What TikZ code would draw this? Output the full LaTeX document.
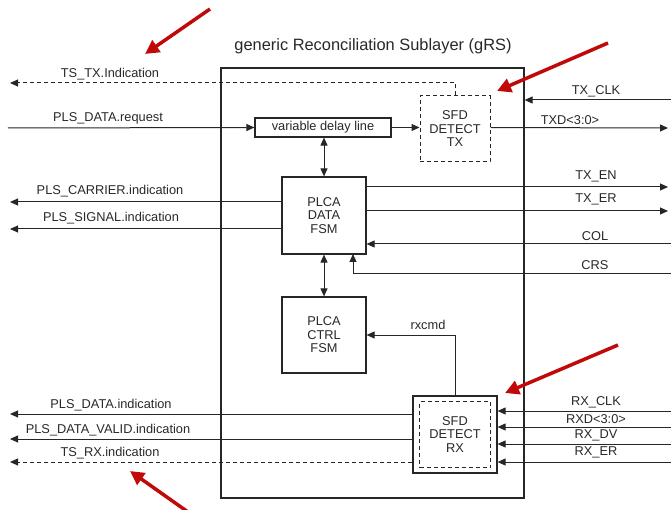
\documentclass[tikz,border=0pt]{standalone}
\usepackage{fontspec}
\setmainfont{Liberation Sans}
\usetikzlibrary{arrows.meta,calc}
\definecolor{redarrow}{RGB}{192,10,10}
\definecolor{txt}{RGB}{40,40,40}
\begin{document}
\begin{tikzpicture}[x=1pt,y=-1pt,
  every node/.style={text=txt},
  sig/.style={line width=1pt,draw=black!85},
  tip/.style={-{Triangle[length=8pt,width=7pt]}},
  dtip/.style={{Triangle[length=8pt,width=7pt]}-{Triangle[length=8pt,width=7pt]}},
  dsig/.style={sig,dash pattern=on 4pt off 3pt},
  lbl/.style={font=\fontsize{12.8}{14}\selectfont,inner sep=0pt},
  blk/.style={draw=black!85,line width=1.2pt,fill=white,align=center,font=\fontsize{12.8}{13.5}\selectfont,inner sep=0pt},
  redarr/.style={draw=redarrow,line width=3.5pt,-{Triangle[length=14pt,width=14pt]}}]
\useasboundingbox (0,0) rectangle (671,510);
\node[draw=black!85,line width=1.2pt,minimum width=303pt,minimum height=430pt,inner sep=0pt] (grs) at (372.5,283) {};
\node[font=\fontsize{16.4}{18}\selectfont,inner sep=0pt] (title) at (373,46) {generic Reconciliation Sublayer (gRS)};
% blocks
\node[blk,line width=1pt,dash pattern=on 4pt off 3pt,minimum width=70pt,minimum height=66pt] (sfdtx) at (455,129) {SFD\\DETECT\\TX};
\node[blk,minimum width=136pt,minimum height=19pt] (delay) at (323,127.5) {variable delay line};
\node[blk,minimum width=84pt,minimum height=77pt] (datafsm) at (324,215.5) {PLCA\\DATA\\FSM};
\node[blk,minimum width=84pt,minimum height=76pt] (ctrlfsm) at (324,335) {PLCA\\CTRL\\FSM};
\node[blk,minimum width=84pt,minimum height=77pt] (sfdrx) at (455,434.5) {};
\node[blk,line width=1pt,dash pattern=on 4pt off 3pt,minimum width=71pt,minimum height=66pt] (sfdrxin) at (455,434.5) {SFD\\DETECT\\RX};
% coordinates of free ends
\coordinate (tstx) at (10,83);
\coordinate (plsreq) at (8,128);
\coordinate (txd) at (668,128);
\coordinate (txclk) at (671,100);
\coordinate (carrier) at (10,202);
\coordinate (signal) at (10,229);
\coordinate (txen) at (668,187);
\coordinate (txer) at (668,211);
\coordinate (col) at (671,244);
\coordinate (crs) at (671,274);
\coordinate (crsin) at (353,254);
\coordinate (rxclk) at (671,411);
\coordinate (rxd) at (671,427);
\coordinate (rxdv) at (671,444);
\coordinate (rxer) at (671,462);
\coordinate (plsdata) at (10,414);
\coordinate (plsvalid) at (10,439);
\coordinate (tsrx) at (10,462);
% TX side
\draw[dsig,tip] (sfdtx.north) |- (tstx);
\node[lbl] (l1) at (110,74) {TS\_TX.Indication};
\draw[sig,tip] (plsreq) -- (delay.west);
\node[lbl] (l2) at (108,118) {PLS\_DATA.request};
\draw[sig,tip] (delay.east) -- (delay.east -| sfdtx.west);
\draw[sig,tip] (delay.east -| sfdtx.east) -- (txd);
\node[lbl] (l3) at (570,120) {TXD<3:0>};
\draw[sig,tip] (txclk) -- (txclk -| grs.east);
\node[lbl] (l4) at (596,91) {TX\_CLK};
\draw[sig,dtip] (datafsm.north) -- (datafsm.north |- delay.south);
% data FSM
\draw[sig,tip] (carrier -| datafsm.west) -- (carrier);
\node[lbl] (l5) at (110,191) {PLS\_CARRIER.indication};
\draw[sig,tip] (signal -| datafsm.west) -- (signal);
\node[lbl] (l6) at (111,218) {PLS\_SIGNAL.indication};
\draw[sig,tip] (txen -| datafsm.east) -- (txen);
\node[lbl] (l7) at (596,176) {TX\_EN};
\draw[sig,tip] (txer -| datafsm.east) -- (txer);
\node[lbl] (l8) at (596,199) {TX\_ER};
\draw[sig,tip] (col) -- (col -| datafsm.east);
\node[lbl] (l9) at (595,236) {COL};
\draw[sig,tip] (crs) -| (crsin);
\node[lbl] (l10) at (595,265) {CRS};
\draw[sig,dtip] (datafsm.south) -- (ctrlfsm.north);
% rx
\draw[sig,tip] (sfdrx.north) |- (ctrlfsm.east);
\node[lbl] (l11) at (428,325) {rxcmd};
\draw[sig,tip] (rxclk) -- (rxclk -| sfdrx.east);
\node[lbl] (l12) at (596,402) {RX\_CLK};
\draw[sig,tip] (rxd) -- (rxd -| sfdrx.east);
\node[lbl] (l13) at (596,419) {RXD<3:0>};
\draw[sig,tip] (rxdv) -- (rxdv -| sfdrx.east);
\node[lbl] (l14) at (596,435) {RX\_DV};
\draw[sig,tip] (rxer) -- (rxer -| sfdrx.east);
\node[lbl] (l15) at (596,452) {RX\_ER};
\draw[sig,tip] (plsdata -| sfdrx.west) -- (plsdata);
\node[lbl] (l16) at (111,405) {PLS\_DATA.indication};
\draw[sig,tip] (plsvalid -| sfdrx.west) -- (plsvalid);
\node[lbl] (l17) at (108,430) {PLS\_DATA\_VALID.indication};
\draw[dsig,tip] (tsrx -| sfdrx.west) -- (tsrx);
\node[lbl] (l18) at (110,453) {TS\_RX.indication};
% red highlight arrows
\coordinate (r1a) at (210,9);
\coordinate (r1b) at (145,54);
\coordinate (r2a) at (608,43);
\coordinate (r2b) at (497,91);
\coordinate (r3a) at (618,345);
\coordinate (r3b) at (505,393);
\coordinate (r4a) at (188,512);
\coordinate (r4b) at (130,471);
\draw[redarr] (r1a) -- (r1b);
\draw[redarr] (r2a) -- (r2b);
\draw[redarr] (r3a) -- (r3b);
\draw[redarr] (r4a) -- (r4b);
\end{tikzpicture}
\end{document}
